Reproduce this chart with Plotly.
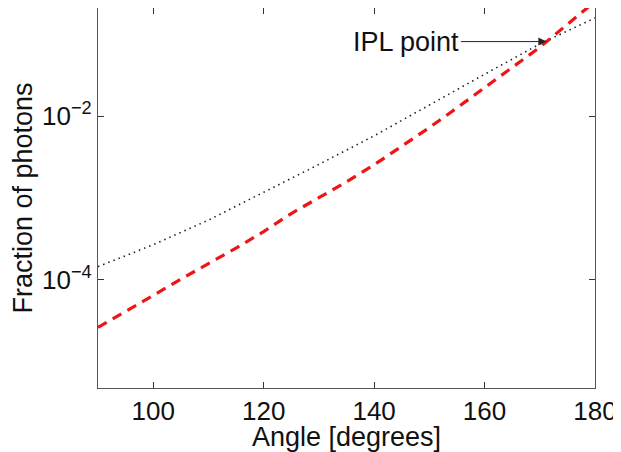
import plotly.graph_objects as go

angles = [90, 100, 110, 120, 130, 140, 150, 160, 170, 180]
dotted_frac = [1.45e-4, 2.69e-4, 5.37e-4, 1.17e-3, 2.57e-3, 5.75e-3, 1.38e-2, 3.24e-2, 7.59e-2, 0.158]

red_angles = [90, 95, 100, 105, 110, 115, 120, 125, 130, 135, 140, 145, 150, 155, 160, 165, 170, 175, 180]
red_frac = [2.63e-5, 4.07e-5, 6.46e-5, 1.02e-4, 1.58e-4, 2.45e-4, 3.89e-4, 6.46e-4, 1.01e-3, 1.58e-3,
            2.54e-3, 4.27e-3, 7.24e-3, 1.26e-2, 2.24e-2, 3.98e-2, 6.92e-2, 0.132, 0.251]

x_ticks = [100, 120, 140, 160, 180]
y_ticks = [1e-4, 1e-2]
y_tick_text = ["10<sup>−4</sup>", "10<sup>−2</sup>"]

ipl_angle = 171.2
ipl_log = -1.09

FONT = "Liberation Sans, Arial, Helvetica, sans-serif"

fig = go.Figure()
fig.add_trace(go.Scatter(x=angles, y=dotted_frac, mode="lines",
                         line=dict(color="#222222", width=1.6, dash="1.5px,4px"),
                         showlegend=False))
fig.add_trace(go.Scatter(x=red_angles, y=red_frac, mode="lines",
                         line=dict(color="#ee1515", width=3.2, dash="10px,7px"),
                         showlegend=False))

fig.add_annotation(x=ipl_angle, y=ipl_log, xref="x", yref="y",
                   text="IPL point", showarrow=True, ax=-140, ay=0,
                   arrowhead=2, arrowsize=1.6, arrowwidth=1, arrowcolor="#222222",
                   font=dict(family=FONT, size=27, color="#111111"))

axis_common = dict(showline=True, linecolor="#555555", linewidth=1.2, mirror="ticks",
                   ticks="inside", ticklen=6, tickcolor="#333333", tickwidth=1,
                   showgrid=False, zeroline=False, automargin=False,
                   tickfont=dict(family=FONT, size=26, color="#111111"))

fig.update_xaxes(range=[90, 180], tickvals=x_ticks,
                 title=dict(text="Angle [degrees]", standoff=0,
                            font=dict(family=FONT, size=27, color="#111111")),
                 **axis_common)
fig.update_yaxes(type="log", range=[-5.32, -0.68], tickvals=y_ticks, ticktext=y_tick_text,
                 title=dict(text="Fraction of photons", standoff=6,
                            font=dict(family=FONT, size=27, color="#111111")),
                 **axis_common)

# page body has an 8px default margin, so the figure is sized to fit the window
fig.update_layout(width=613, height=444, margin=dict(l=90, r=26, t=0, b=64),
                  plot_bgcolor="white", paper_bgcolor="white")

fig.write_html("out.html")
